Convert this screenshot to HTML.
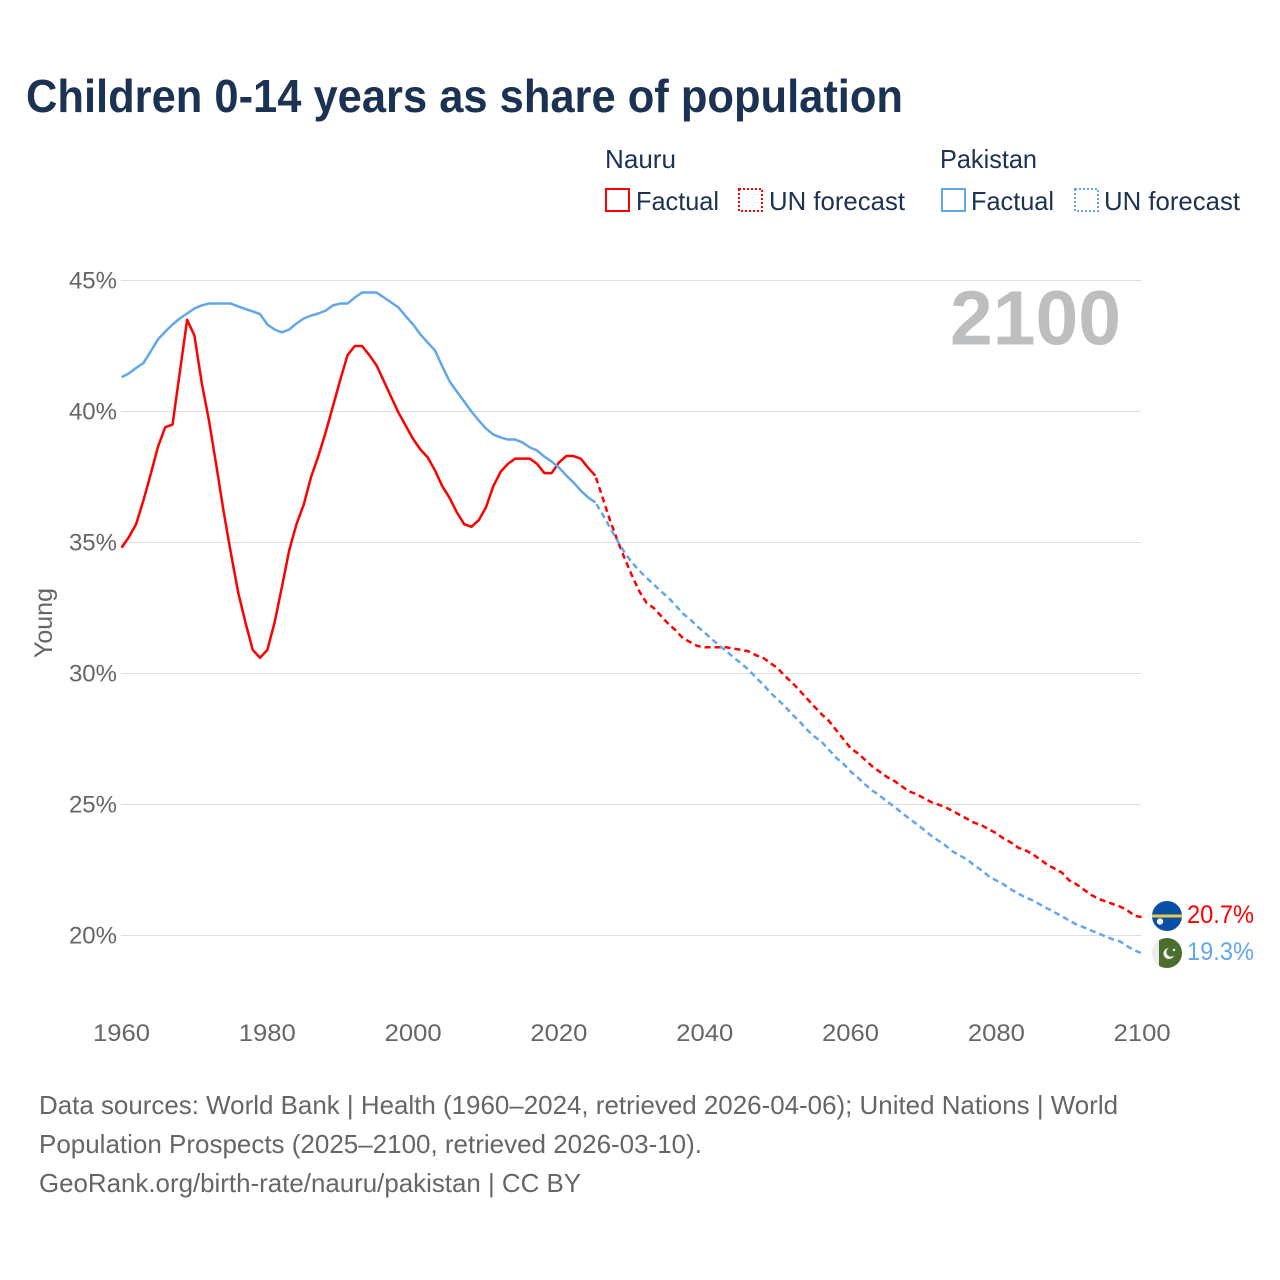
<!DOCTYPE html>
<html lang="en">
<head>
<meta charset="utf-8">
<title>Children 0-14 years as share of population</title>
<style>
html,body{margin:0;padding:0;background:#fff;width:1280px;height:1280px;overflow:hidden}
svg{display:block}
text{font-family:"Liberation Sans",sans-serif}
</style>
</head>
<body>
<svg id="chart" width="1280" height="1280" viewBox="0 0 1280 1280" xmlns="http://www.w3.org/2000/svg">
  <rect width="1280" height="1280" fill="#fff"/>
  <text x="26" y="112" font-size="46" font-weight="700" fill="#1b3252" textLength="877" lengthAdjust="spacingAndGlyphs">Children 0-14 years as share of population</text>

  <g font-size="26" fill="#1b3252">
    <text x="605" y="168" textLength="71" lengthAdjust="spacingAndGlyphs">Nauru</text>
    <text x="940" y="168" textLength="97" lengthAdjust="spacingAndGlyphs">Pakistan</text>
    <rect x="606" y="189" width="23" height="22" fill="none" stroke="#ff0000" stroke-width="2"/>
    <text x="636" y="210" textLength="83" lengthAdjust="spacingAndGlyphs">Factual</text>
    <rect x="739" y="189" width="23" height="22" fill="none" stroke="#ff0000" stroke-width="2" stroke-dasharray="2 2"/>
    <text x="769" y="210" textLength="136" lengthAdjust="spacingAndGlyphs">UN forecast</text>
    <rect x="942" y="189" width="23" height="22" fill="none" stroke="#63a7ea" stroke-width="2"/>
    <text x="971" y="210" textLength="83" lengthAdjust="spacingAndGlyphs">Factual</text>
    <rect x="1075" y="189" width="23" height="22" fill="none" stroke="#63a7ea" stroke-width="2" stroke-dasharray="2 2"/>
    <text x="1104" y="210" textLength="136" lengthAdjust="spacingAndGlyphs">UN forecast</text>
  </g>

  <g id="grid"></g>
  <g id="yticks" font-size="24" fill="#666" text-anchor="end"></g>
  <g id="xticks" font-size="24" fill="#666" text-anchor="middle"></g>

  <text transform="translate(52,658) rotate(-90)" font-size="25" fill="#666" textLength="70" lengthAdjust="spacingAndGlyphs">Young</text>
  <text x="950" y="344.5" font-size="77" font-weight="700" fill="#bdbec0" textLength="171" lengthAdjust="spacingAndGlyphs">2100</text>

  <g id="series"></g>

  <defs>
    <clipPath id="clipNauru"><circle cx="1167" cy="916" r="15"/></clipPath>
    <clipPath id="clipPak"><circle cx="1167" cy="953" r="15"/></clipPath>
  </defs>
  <g clip-path="url(#clipNauru)">
    <rect x="1152" y="901" width="30" height="30" fill="#0a4ea6"/>
    <rect x="1152" y="914.5" width="30" height="3" fill="#e8c94a"/>
    <circle cx="1160" cy="921.5" r="3.2" fill="#f0f4fa"/>
  </g>
  <g clip-path="url(#clipPak)">
    <rect x="1152" y="938" width="30" height="30" fill="#ececec"/>
    <rect x="1159" y="938" width="23" height="30" fill="#4b6d2e"/>
    <circle cx="1169" cy="953.5" r="5.5" fill="#f4f4f4"/>
    <circle cx="1171" cy="952" r="4.6" fill="#4b6d2e"/>
    <circle cx="1174" cy="950" r="1.2" fill="#f4f4f4"/>
  </g>
  <text x="1187" y="923" font-size="25" fill="#ff0000" textLength="67" lengthAdjust="spacingAndGlyphs">20.7%</text>
  <text x="1187" y="960" font-size="25" fill="#63a7ea" textLength="67" lengthAdjust="spacingAndGlyphs">19.3%</text>

  <g font-size="26" fill="#666">
    <text x="39" y="1114" textLength="1079" lengthAdjust="spacingAndGlyphs">Data sources: World Bank | Health (1960–2024, retrieved 2026-04-06); United Nations | World</text>
    <text x="39" y="1153" textLength="663" lengthAdjust="spacingAndGlyphs">Population Prospects (2025–2100, retrieved 2026-03-10).</text>
    <text x="39" y="1192" textLength="542" lengthAdjust="spacingAndGlyphs">GeoRank.org/birth-rate/nauru/pakistan | CC BY</text>
  </g>
</svg>
<script>
const yTickValues = [20, 25, 30, 35, 40, 45];
const yTickLabels = ["20%", "25%", "30%", "35%", "40%", "45%"];
const xTickYears = [1960, 1980, 2000, 2020, 2040, 2060, 2080, 2100];
const factualStartYear = 1960;
const forecastStartYear = 2025;
const nauruFactual = [34.8,35.2,35.7,36.6,37.6,38.65,39.4,39.5,41.5,43.5,42.9,41.1,39.65,37.95,36.2,34.6,33.1,31.95,30.9,30.6,30.9,31.95,33.3,34.7,35.7,36.45,37.5,38.3,39.2,40.2,41.2,42.15,42.5,42.5,42.15,41.75,41.15,40.55,39.95,39.45,38.95,38.55,38.25,37.75,37.15,36.7,36.15,35.7,35.6,35.85,36.35,37.15,37.7,38.0,38.2,38.2,38.2,38.0,37.65,37.65,38.05,38.3,38.3,38.2,37.85,37.55];
const nauruForecast = [37.55,36.7,35.85,35.1,34.4,33.75,33.15,32.7,32.5,32.2,31.9,31.65,31.35,31.2,31.05,31.0,31.0,31.0,31.0,30.95,30.9,30.85,30.7,30.6,30.4,30.2,29.9,29.65,29.35,29.05,28.75,28.45,28.2,27.85,27.5,27.15,26.95,26.7,26.45,26.25,26.05,25.9,25.7,25.5,25.4,25.25,25.1,25.0,24.9,24.75,24.6,24.45,24.3,24.2,24.05,23.9,23.7,23.55,23.35,23.25,23.1,22.9,22.7,22.55,22.4,22.1,21.95,21.75,21.55,21.4,21.3,21.2,21.1,20.95,20.75,20.7];
const pakistanFactual = [41.31,41.45,41.66,41.85,42.29,42.75,43.05,43.32,43.55,43.74,43.93,44.05,44.12,44.12,44.12,44.12,44.01,43.91,43.82,43.72,43.32,43.13,43.02,43.13,43.36,43.55,43.66,43.74,43.85,44.05,44.12,44.12,44.35,44.54,44.54,44.54,44.35,44.16,43.97,43.63,43.32,42.94,42.63,42.33,41.72,41.15,40.76,40.38,40.0,39.66,39.35,39.12,39.01,38.93,38.93,38.82,38.63,38.51,38.28,38.09,37.86,37.56,37.29,36.98,36.72,36.53];
const pakistanForecast = [36.53,36.07,35.57,35.08,34.62,34.24,33.93,33.66,33.40,33.13,32.90,32.60,32.29,32.06,31.79,31.56,31.30,31.07,30.84,30.61,30.38,30.15,29.85,29.58,29.27,29.01,28.74,28.44,28.17,27.86,27.60,27.40,27.10,26.79,26.56,26.26,26.03,25.76,25.53,25.34,25.11,24.92,24.69,24.47,24.27,24.05,23.82,23.63,23.44,23.21,23.05,22.90,22.67,22.48,22.25,22.10,21.95,21.76,21.60,21.45,21.34,21.18,21.03,20.88,20.73,20.57,20.42,20.31,20.19,20.08,19.96,19.85,19.77,19.58,19.43,19.31];

const NS = "http://www.w3.org/2000/svg";
function xScale(year) { return 121.5 + (year - 1960) * (1142.2 - 121.5) / 140; }
function yScale(value) { return 280.5 + (45 - value) * (935.5 - 280.5) / 25; }

const gridGroup = document.getElementById("grid");
const yTickGroup = document.getElementById("yticks");
yTickValues.forEach(function (v, i) {
  const line = document.createElementNS(NS, "line");
  
  
  line.setAttribute("x1", 121);
  line.setAttribute("x2", 1141);
  line.setAttribute("y1", yScale(v));
  line.setAttribute("y2", yScale(v));
  line.setAttribute("stroke", "#dedede");
  line.setAttribute("stroke-width", "1");
  gridGroup.appendChild(line);
  const label = document.createElementNS(NS, "text");
  
  
  label.setAttribute("x", 117);
  label.setAttribute("y", yScale(v) + 8);
  label.textContent = yTickLabels[i];
  yTickGroup.appendChild(label);
});

const xTickGroup = document.getElementById("xticks");
xTickYears.forEach(function (year) {
  const label = document.createElementNS(NS, "text");
  
  
  label.setAttribute("x", xScale(year));
  label.setAttribute("y", 1041);
  label.setAttribute("textLength", "57");
  label.setAttribute("lengthAdjust", "spacingAndGlyphs");
  label.textContent = String(year);
  xTickGroup.appendChild(label);
});

function linePath(values, startYear) {
  return values.map(function (v, i) {
    return (i ? "L" : "M") + xScale(startYear + i).toFixed(2) + " " + yScale(v).toFixed(2);
  }).join("");
}

const seriesGroup = document.getElementById("series");
function drawSeries(values, startYear, color, dashed, name) {
  const path = document.createElementNS(NS, "path");
  
  
  path.setAttribute("d", linePath(values, startYear));
  path.setAttribute("fill", "none");
  path.setAttribute("stroke", color);
  path.setAttribute("stroke-width", "2.5");
  path.setAttribute("stroke-linejoin", "round");
  if (dashed) {
    path.setAttribute("stroke-dasharray", "6 4");
    path.setAttribute("stroke-dashoffset", "8");
  }
  seriesGroup.appendChild(path);
}
drawSeries(nauruFactual, factualStartYear, "#ff0000", false, "nauru-factual-line");
drawSeries(nauruForecast, forecastStartYear, "#ff0000", true, "nauru-forecast-line");
drawSeries(pakistanFactual, factualStartYear, "#63a7ea", false, "pakistan-factual-line");
drawSeries(pakistanForecast, forecastStartYear, "#63a7ea", true, "pakistan-forecast-line");
</script>
</body>
</html>
